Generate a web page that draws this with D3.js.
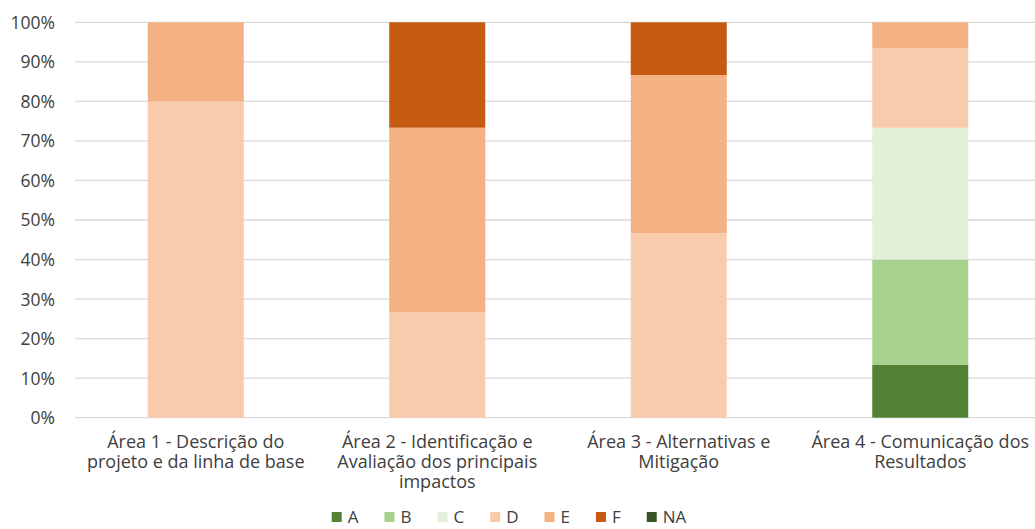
<!DOCTYPE html>
<html>
<head>
<meta charset="utf-8">
<script src="https://cdn.jsdelivr.net/npm/d3@7"></script>
<style>
  html, body { margin: 0; padding: 0; background: #fff; }
  svg { display: block; }
  text { font-family: "Open Sans", "Noto Sans", sans-serif; fill: #404040; }
</style>
</head>
<body>
<svg id="chart" width="1035" height="529"></svg>
<script>
// ---- data ----
const categories = ["Área 1", "Área 2", "Área 3", "Área 4"];
const categoryLabels = [
  ["Área 1 - Descrição do", "projeto e da linha de base"],
  ["Área 2 - Identificação e", "Avaliação dos principais", "impactos"],
  ["Área 3 - Alternativas e", "Mitigação"],
  ["Área 4 - Comunicação dos", "Resultados"]
];
const seriesNames = ["A", "B", "C", "D", "E", "F", "NA"];
const valuesA  = [0, 0, 0, 13.33];
const valuesB  = [0, 0, 0, 26.67];
const valuesC  = [0, 0, 0, 33.33];
const valuesD  = [80, 26.67, 46.67, 20];
const valuesE  = [20, 46.67, 40, 6.67];
const valuesF  = [0, 26.67, 13.33, 0];
const valuesNA = [0, 0, 0, 0];
const tickValues = [0, 10, 20, 30, 40, 50, 60, 70, 80, 90, 100];
const seriesColors = ["#548235", "#A9D18E", "#E2F0D9", "#F8CBAD", "#F4B183", "#C55A11", "#375623"];

const seriesValues = [valuesA, valuesB, valuesC, valuesD, valuesE, valuesF, valuesNA];
const table = categories.map((c, i) => {
  const row = { category: c };
  seriesNames.forEach((s, k) => row[s] = seriesValues[k][i]);
  return row;
});

// ---- layout ----
const svg = d3.select("#chart");
const W = 1035;
const x = d3.scaleBand().domain(categories).range([75, 1041]).paddingInner(0.6025).paddingOuter(0.30125);
const y = d3.scaleLinear().domain([0, 100]).range([417.7, 22.3]);
const color = d3.scaleOrdinal().domain(seriesNames).range(seriesColors);

// gridlines
svg.append("g").selectAll("line").data(tickValues).join("line")
  .attr("x1", 75).attr("x2", W)
  .attr("y1", d => y(d)).attr("y2", d => y(d))
  .attr("stroke", "#d9d9d9").attr("stroke-width", 1.3);

// y tick labels via axis
const yAxis = svg.append("g").attr("transform", "translate(55,0)")
  .call(d3.axisLeft(y).tickValues(tickValues).tickFormat(d => d + "%").tickSize(0).tickPadding(0));
yAxis.select(".domain").remove();
yAxis.selectAll("text").attr("font-family", "Open Sans").attr("font-size", 17.5).attr("fill", "#404040").attr("dy", "0.34em");

// stacked bars
const stack = d3.stack().keys(seriesNames)(table);
svg.append("g").selectAll("g").data(stack).join("g")
  .attr("fill", d => color(d.key))
  .selectAll("rect").data(d => d).join("rect")
  .attr("x", d => x(d.data.category))
  .attr("width", x.bandwidth())
  .attr("y", d => y(d[1]))
  .attr("height", d => Math.max(0, y(d[0]) - y(d[1])));

// category labels
const labG = svg.append("g");
categories.forEach((c, i) => {
  const t = labG.append("text")
    .attr("text-anchor", "middle")
    .attr("font-size", 18);
  categoryLabels[i].forEach((line, j) => {
    t.append("tspan").attr("x", x(c) + x.bandwidth() / 2).attr("y", 448 + j * 20).text(line);
  });
});

// legend
const legend = svg.append("g");
let lx = 0;
seriesNames.forEach((s) => {
  const g = legend.append("g").attr("transform", `translate(${lx},0)`);
  g.append("rect").attr("x", 0).attr("y", -5).attr("width", 10).attr("height", 10).attr("fill", color(s));
  const t = g.append("text").attr("x", 16).attr("y", 0).attr("dy", "0.35em").attr("font-size", 17).text(s);
  const w = t.node().getComputedTextLength();
  lx += 16 + w + 26;
});
const totalW = lx - 26;
legend.attr("transform", `translate(${(330 + 688) / 2 - totalW / 2},517)`);
</script>
</body>
</html>
